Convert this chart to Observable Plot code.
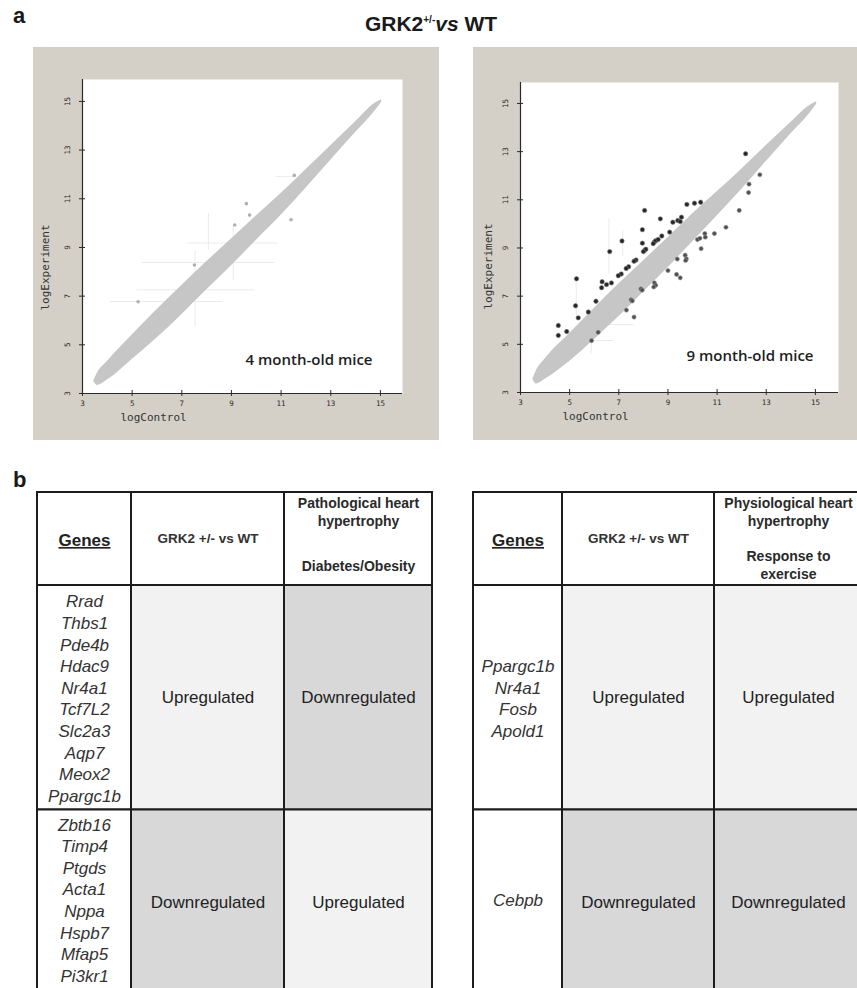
<!DOCTYPE html>
<html>
<head>
<meta charset="utf-8">
<script src="https://cdn.jsdelivr.net/npm/d3@7"></script>
<script src="https://cdn.jsdelivr.net/npm/@observablehq/plot@0.6"></script>
<style>
html, body { margin: 0; padding: 0; background: #fff; overflow: hidden; }
#fig { position: relative; width: 857px; height: 988px; overflow: hidden; font-family: "Liberation Sans", Arial, sans-serif; color: #1a1a1a; }
.abs { position: absolute; }
.letter { font-size: 22px; font-weight: bold; line-height: 22px; }
.title { left: 0; width: 862px; top: 12px; text-align: center; font-size: 21px; font-weight: bold; line-height: 24px; }
.title sup { font-size: 10px; vertical-align: 8px; line-height: 0; }
</style>
</head>
<body>
<div id="fig">
  <div class="abs letter" style="left:13px;top:5px">a</div>
  <div class="abs title">GRK2<sup>+/-</sup><i>vs</i> WT</div>
  <div class="abs letter" style="left:13px;top:469px">b</div>
  <div class="abs" id="p4" style="left:33px;top:47px;width:406px"></div>
  <div class="abs" id="p9" style="left:473px;top:47px;width:384px"></div>
  <div class="abs" id="t1" style="left:35px;top:490px;width:399px"></div>
  <div class="abs" id="t2" style="left:471px;top:490px;width:393px"></div>
</div>
<script>
// ---------------- data ----------------
const xTicks = [3, 5, 7, 9, 11, 13, 15];
const yTicks = [3, 5, 7, 9, 11, 13, 15];
const xLabel = "logControl";
const yLabel = "logExperiment";

// 4 month-old: dense gene cloud (edges of the band)
const band4X  = [3.45, 3.6, 4.0, 5.0, 6.0, 7.0, 8.0, 9.0, 10.0, 11.0, 12.0, 13.0, 14.0, 14.8, 15.05];
const band4Lo = [3.50, 3.33, 3.55, 4.40, 5.28, 6.24, 7.25, 8.25, 9.29, 10.32, 11.43, 12.58, 13.72, 14.63, 14.97];
const band4Hi = [3.50, 3.83, 4.31, 5.40, 6.44, 7.44, 8.41, 9.35, 10.29, 11.22, 12.19, 13.18, 14.16, 14.93, 15.07];
const out4X = [11.4, 9.6, 9.73, 9.13, 7.51, 5.24, 11.53];
const out4Y = [10.14, 10.8, 10.33, 9.92, 8.28, 6.77, 11.96];
const err4HY  = [8.38, 7.26, 6.78, 9.18, 11.92];
const err4HX1 = [5.4, 5.2, 4.13, 7.27, 10.8];
const err4HX2 = [10.73, 9.93, 8.67, 10.87, 11.53];
const err4VX  = [9.07, 7.53, 8.07];
const err4VY1 = [7.64, 5.73, 8.88];
const err4VY2 = [9.84, 8.88, 10.39];

// 9 month-old
const band9X  = [3.5, 3.65, 4.0, 5.0, 6.0, 7.0, 8.0, 9.0, 10.0, 11.0, 12.0, 13.0, 14.0, 14.8, 15.05];
const band9Lo = [3.55, 3.35, 3.55, 4.29, 5.19, 6.14, 7.16, 8.18, 9.25, 10.33, 11.43, 12.59, 13.73, 14.62, 14.97];
const band9Hi = [3.55, 3.91, 4.39, 5.45, 6.49, 7.50, 8.46, 9.42, 10.41, 11.33, 12.27, 13.25, 14.21, 14.94, 15.07];
// differentially expressed genes above the diagonal
const up9X = [12.16, 8.05, 8.69, 9.2, 9.4, 9.77, 10.08, 10.33, 7.96, 7.13, 7.96, 6.63, 8.45, 8.5, 8.4, 8.05, 8.1, 8.0,
              7.7, 7.62, 7.4, 7.3, 7.1, 6.98, 6.7, 6.5, 6.32, 6.3, 6.07, 5.76, 5.28, 5.24, 5.35, 4.88, 4.54, 4.54, 9.07, 9.5, 9.55, 8.6, 8.75];
const up9Y = [12.91, 10.56, 10.21, 10.07, 10.14, 10.81, 10.86, 10.9, 9.76, 9.29, 9.2, 8.85, 9.25, 9.3, 9.18, 8.9, 8.95, 8.85,
              8.5, 8.45, 8.22, 8.15, 7.92, 7.85, 7.55, 7.48, 7.6, 7.35, 6.79, 6.34, 7.72, 6.6, 6.1, 5.53, 5.78, 5.37, 9.66, 10.1, 10.28, 9.35, 9.5];
// differentially expressed genes below the diagonal
const down9X = [12.74, 12.3, 12.28, 11.9, 11.36, 10.89, 10.5, 10.52, 10.2, 10.3, 10.35, 9.7, 9.75, 9.72, 9.38, 9.0, 9.35, 9.5,
                8.45, 8.5, 8.42, 7.9, 7.95, 7.5, 7.55, 7.31, 7.62, 6.16, 5.89];
const down9Y = [12.04, 11.65, 11.3, 10.56, 9.86, 9.6, 9.6, 9.45, 9.35, 9.4, 8.97, 8.7, 8.55, 8.48, 8.54, 8.06, 7.9, 7.76,
                7.55, 7.45, 7.38, 7.3, 7.25, 6.85, 6.8, 6.42, 6.13, 5.5, 5.15];
const err9HY  = [5.82, 5.16];
const err9HX1 = [6.6, 5.5];
const err9HX2 = [7.62, 6.8];
const err9VX  = [6.6, 7.16, 5.27, 5.88];
const err9VY1 = [7.9, 8.62, 6.1, 4.6];
const err9VY2 = [10.2, 9.72, 7.77, 5.95];

// tables
const genesHeader = "Genes";
const compHeader = "GRK2 +/- vs WT";
const table1CondHeader = ["Pathological heart\nhypertrophy", "Diabetes/Obesity"];
const table2CondHeader = ["Physiological heart\nhypertrophy", "Response to\nexercise"];
const table1Genes = [
  ["Rrad", "Thbs1", "Pde4b", "Hdac9", "Nr4a1", "Tcf7L2", "Slc2a3", "Aqp7", "Meox2", "Ppargc1b"],
  ["Zbtb16", "Timp4", "Ptgds", "Acta1", "Nppa", "Hspb7", "Mfap5", "Pi3kr1"]
];
const table1Comp = ["Upregulated", "Downregulated"];
const table1Cond = ["Downregulated", "Upregulated"];
const table2Genes = [
  ["Ppargc1b", "Nr4a1", "Fosb", "Apold1"],
  ["Cebpb"]
];
const table2Comp = ["Upregulated", "Downregulated"];
const table2Cond = ["Upregulated", "Downregulated"];

// ---------------- scatter panels ----------------
function scatterPanel(o) {
  const band = o.bandX.map((x, i) => ({x, lo: o.bandLo[i], hi: o.bandHi[i]}));
  const errH = o.errHY.map((y, i) => ({y, x1: o.errHX1[i], x2: o.errHX2[i]}));
  const errV = o.errVX.map((x, i) => ({x, y1: o.errVY1[i], y2: o.errVY2[i]}));
  const mono = "DejaVu Sans Mono, Liberation Mono, monospace";
  return Plot.plot({
    width: o.width, height: 393,
    marginLeft: o.mL, marginRight: o.mR, marginTop: o.mT, marginBottom: o.mB,
    x: {domain: o.xDomain, axis: null},
    y: {domain: o.yDomain, axis: null},
    style: {background: "#d4d0c8", color: "#2a2a2a", fontFamily: "Liberation Sans, Arial, sans-serif", overflow: "visible"},
    marks: [
      Plot.frame({fill: "white", stroke: null}),
      Plot.ruleY(errH, {y: "y", x1: "x1", x2: "x2", stroke: "#ebebeb", strokeWidth: 1}),
      Plot.ruleX(errV, {x: "x", y1: "y1", y2: "y2", stroke: "#ebebeb", strokeWidth: 1}),
      Plot.areaY(band, {x: "x", y1: "lo", y2: "hi", fill: "#c6c6c6", curve: "monotone-x"}),
      ...o.dots,
      Plot.ruleX([3], {stroke: "#2a2a2a", strokeWidth: 1.2}),
      Plot.ruleY([3], {stroke: "#2a2a2a", strokeWidth: 1.2}),
      Plot.ruleX(xTicks, {x: d => d, y1: 3, y2: 3, insetTop: -3, insetBottom: -3, stroke: "#2a2a2a"}),
      Plot.ruleY(yTicks, {y: d => d, x1: 3, x2: 3, insetLeft: -3, insetRight: -3, stroke: "#2a2a2a"}),
      Plot.axisX(xTicks, {tickSize: 0, tickPadding: 7, fontSize: 7.5, fontFamily: mono, label: null}),
      Plot.axisY(yTicks, {tickSize: 0, tickPadding: 13, tickRotate: -90, fontSize: 7.5, fontFamily: mono, label: null}),
      Plot.text([xLabel], {text: d => d, frameAnchor: "bottom-left", dx: o.xlDx, dy: 27, textAnchor: "start", fontSize: 11, fontFamily: mono, fill: "#333"}),
      Plot.text([yLabel], {text: d => d, frameAnchor: "left", dx: o.ylDx, dy: o.ylDy, rotate: -90, fontSize: 11, fontFamily: mono, fill: "#333"}),
      Plot.text([o.note], {text: d => d, frameAnchor: "bottom-right", dx: o.noteDx, dy: o.noteDy, textAnchor: "end", fontSize: 15, fontWeight: 600, fontFamily: "Open Sans, Liberation Sans, sans-serif", fill: "#1e1e1e"})
    ]
  });
}

const p4 = scatterPanel({
  width: 406, mL: 49, mR: 37, mT: 32, mB: 47,
  xDomain: [3, 15.89], yDomain: [3, 15.9],
  bandX: band4X, bandLo: band4Lo, bandHi: band4Hi,
  errHY: err4HY, errHX1: err4HX1, errHX2: err4HX2, errVX: err4VX, errVY1: err4VY1, errVY2: err4VY2,
  dots: [Plot.dot(out4X.map((x, i) => ({x, y: out4Y[i]})), {x: "x", y: "y", r: 1.8, fill: "#b0b0b0"})],
  xlDx: 38, ylDx: -37, ylDy: 74,
  note: "4 month-old mice", noteDx: -30, noteDy: -29
});
document.getElementById("p4").appendChild(p4);

const p9 = scatterPanel({
  width: 384, mL: 47, mR: 19, mT: 35, mB: 48,
  xDomain: [3, 15.94], yDomain: [3, 15.87],
  bandX: band9X, bandLo: band9Lo, bandHi: band9Hi,
  errHY: err9HY, errHX1: err9HX1, errHX2: err9HX2, errVX: err9VX, errVY1: err9VY1, errVY2: err9VY2,
  dots: [
    Plot.dot(down9X.map((x, i) => ({x, y: down9Y[i]})), {x: "x", y: "y", r: 2.1, fill: "#505050", stroke: "#909090", strokeWidth: 0.6}),
    Plot.dot(up9X.map((x, i) => ({x, y: up9Y[i]})), {x: "x", y: "y", r: 2.2, fill: "#262626", stroke: "#7a7a7a", strokeWidth: 0.6})
  ],
  xlDx: 42, ylDx: -32, ylDy: 72,
  note: "9 month-old mice", noteDx: -25, noteDy: -32
});
document.getElementById("p9").appendChild(p9);

// ---------------- tables ----------------
function tablePanel(o) {
  const ce = o.colEdges, re = o.rowEdges;
  const W = ce[ce.length - 1], H = re[re.length - 1];
  const cx = c => (ce[c] + ce[c + 1]) / 2;
  const cells = [];
  for (let c = 0; c < 3; c++) cells.push({x1: ce[c], x2: ce[c + 1], y1: re[0], y2: re[1], status: "none"});
  const body = [];
  o.genes.forEach((g, r) => {
    const y1 = re[r + 1], y2 = re[r + 2], ym = (y1 + y2) / 2;
    cells.push({x1: ce[0], x2: ce[1], y1, y2, status: "none"});
    cells.push({x1: ce[1], x2: ce[2], y1, y2, status: o.comp[r]});
    cells.push({x1: ce[2], x2: ce[3], y1, y2, status: o.cond[r]});
    body.push({x: cx(0), y: ym - (r === 1 ? 3 : 0), text: g.join("\n"), kind: "gene"});
    body.push({x: cx(1), y: ym, text: o.comp[r], kind: "status"});
    body.push({x: cx(2), y: ym, text: o.cond[r], kind: "status"});
  });
  const svg = Plot.plot({
    width: W + 4, height: H + 4, margin: 0,
    x: {domain: [0, W], range: [2, W + 2], axis: null},
    y: {domain: [0, H], range: [2, H + 2], axis: null},
    color: {domain: ["none", "Upregulated", "Downregulated"], range: ["#ffffff", "#f2f2f2", "#d8d8d8"]},
    style: {background: "transparent", fontFamily: "Liberation Sans, Arial, sans-serif", overflow: "visible"},
    marks: [
      Plot.rect(cells, {x1: "x1", x2: "x2", y1: "y1", y2: "y2", fill: "status", stroke: "#1c1c1c", strokeWidth: 2}),
      Plot.text([genesHeader], {text: d => d, x: cx(0), y: o.hy.genes, fontSize: 17, fontWeight: "bold", fill: "#222"}),
      Plot.text([compHeader], {text: d => d, x: cx(1), y: o.hy.comp, fontSize: 13.5, fontWeight: "bold", fill: "#333"}),
      Plot.text(o.condHeader, {text: d => d, x: cx(2), y: (d, i) => o.hy.cond[i], fontSize: 14, fontWeight: "bold", lineHeight: 1.3, fill: "#2a2a2a"}),
      Plot.text(body.filter(d => d.kind === "gene"), {x: "x", y: "y", text: "text", fontSize: 17, fontStyle: "italic", lineHeight: 21.6 / 17, fill: "#333"}),
      Plot.text(body.filter(d => d.kind === "status"), {x: "x", y: "y", text: "text", fontSize: 17, fill: "#222"})
    ]
  });
  svg.querySelectorAll("text").forEach(t => {
    if (t.textContent === genesHeader) t.style.textDecoration = "underline";
  });
  return svg;
}

const rowEdges = [0, 93, 317.5, 502];
document.getElementById("t1").appendChild(tablePanel({
  colEdges: [0, 94, 247, 395], rowEdges,
  genes: table1Genes, comp: table1Comp, cond: table1Cond, condHeader: table1CondHeader,
  hy: {genes: 48, comp: 46, cond: [19, 72.5]}
}));
document.getElementById("t2").appendChild(tablePanel({
  colEdges: [0, 89, 241, 389], rowEdges,
  genes: table2Genes, comp: table2Comp, cond: table2Cond, condHeader: table2CondHeader,
  hy: {genes: 48, comp: 46, cond: [19, 72]}
}));
</script>
</body>
</html>
